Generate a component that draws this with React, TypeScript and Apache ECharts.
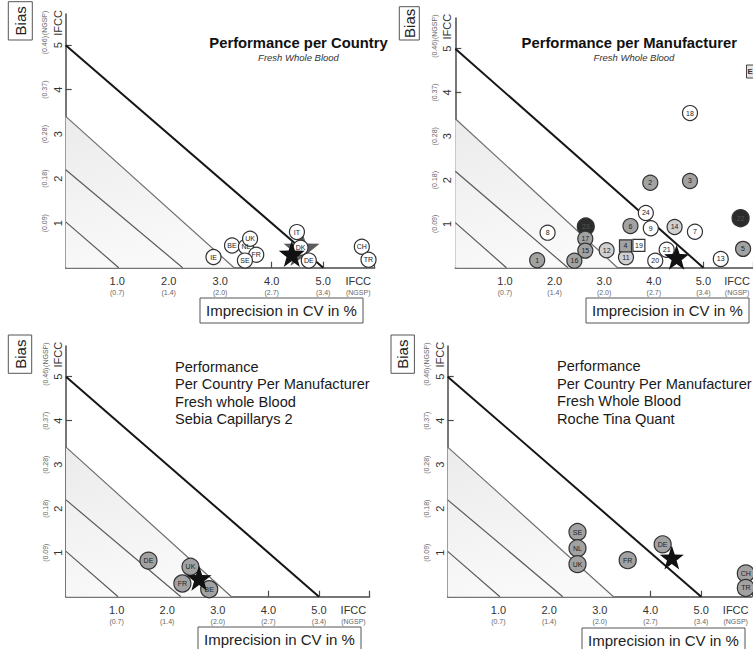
import React, { useEffect, useRef } from "react";
import * as echarts from "echarts";

const FONT = "'Liberation Sans', Arial, Helvetica, sans-serif";

// ---------- axis ticks & labels ----------
const xTickValues = [1, 2, 3, 4, 5, 6];
const xLabelValues = [1, 2, 3, 4, 5, 5.68];
const xLabelMain = ["1.0", "2.0", "3.0", "4.0", "5.0", "IFCC"];
const xLabelSub = ["(0.7)", "(1.4)", "(2.0)", "(2.7)", "(3.4)", "(NGSP)"];
const yTickValues = [1, 2, 3, 4, 5];
const yLabelValues = [1, 2, 3, 4, 5, 5.5];
const yLabelMain = ["1", "2", "3", "4", "5", "IFCC"];
const yLabelSub = ["(0.09)", "(0.18)", "(0.28)", "(0.37)", "(0.46)", "(NGSP)"];

// ---------- performance limit lines (CV, bias) ----------
const limitTotal = [[0, 5], [5, 0]];
const limitA = [[0, 3.4], [3.27, 0]];
const limitB = [[0, 2.2], [2.27, 0]];
const limitC = [[0, 1.03], [1.03, 0]];

// ---------- panel 1: per country ----------
const countryNames = ["IE", "BE", "NL", "UK", "FR", "SE", "IT", "DK", "DE", "CH", "TR"];
const countryCV = [2.87, 3.23, 3.5, 3.58, 3.7, 3.48, 4.49, 4.56, 4.72, 5.75, 5.88];
const countryBias = [0.24, 0.5, 0.47, 0.65, 0.29, 0.16, 0.8, 0.45, 0.16, 0.47, 0.18];
const countryStarGrey = [4.58, 0.44];
const countryStarBlack = [4.39, 0.31];

// ---------- panel 2: per manufacturer ----------
const manuNames = ["1", "8", "23", "17", "15", "16", "12", "11", "6", "24", "9", "14", "7", "2", "3", "18", "21", "20", "13", "22", "5"];
const manuCV = [1.65, 1.86, 2.63, 2.62, 2.62, 2.4, 3.05, 3.44, 3.53, 3.84, 3.94, 4.42, 4.83, 3.93, 4.73, 4.73, 4.26, 4.03, 5.35, 5.75, 5.8];
const manuBias = [0.17, 0.8, 0.94, 0.66, 0.39, 0.16, 0.4, 0.24, 0.95, 1.25, 0.9, 0.93, 0.82, 1.94, 1.98, 3.53, 0.41, 0.16, 0.2, 1.13, 0.43];
const manuFill = ["g", "w", "d", "g", "g", "g", "l", "l", "g", "w", "w", "l", "w", "g", "g", "w", "w", "w", "w", "d", "g"];
const manuSquareNames = ["4", "19"];
const manuSquareCV = [3.43, 3.7];
const manuSquareBias = [0.5, 0.51];
const manuSquareFill = ["g", "w"];
const manuStar = [4.46, 0.24];

// ---------- panel 3: Sebia Capillarys 2 ----------
const sebiaNames = ["DE", "UK", "FR", "BE"];
const sebiaCV = [1.63, 2.46, 2.3, 2.83];
const sebiaBias = [0.82, 0.68, 0.3, 0.17];
const sebiaStar = [2.63, 0.42];

// ---------- panel 4: Roche Tina Quant ----------
const rocheNames = ["SE", "NL", "UK", "FR", "DE", "CH", "TR"];
const rocheCV = [2.56, 2.56, 2.56, 3.55, 4.24, 5.88, 5.88];
const rocheBias = [1.47, 1.1, 0.74, 0.83, 1.19, 0.53, 0.2];
const rocheStar = [4.42, 0.89];

// ---------- texts ----------
const biasLabel = "Bias";
const xAxisTitle = "Imprecision in CV in %";
const title1 = "Performance per Country";
const title2 = "Performance per Manufacturer";
const subTitle = "Fresh Whole Blood";
const block3 = ["Performance", "Per Country Per Manufacturer", "Fresh whole Blood", "Sebia Capillarys 2"];
const block4 = ["Performance", "Per Country Per Manufacturer", "Fresh Whole Blood", "Roche Tina Quant"];

const FILLS: Record<string, string> = { w: "#ffffff", l: "#d0d0d0", g: "#a2a2a2", d: "#2c2c2c" };
const STAR =
  "path://M0,-10 L2.35,-3.24 L9.51,-3.09 L3.8,1.24 L5.88,8.09 L0,4 L-5.88,8.09 L-3.8,1.24 L-9.51,-3.09 L-2.35,-3.24 Z";

const layouts = [
  { left: 65.7, top: 14, width: 309, height: 253.7 },
  { left: 455.3, top: 18, width: 303.6, height: 249.7 },
  { left: 66, top: 345.9, width: 303.6, height: 250.8 },
  { left: 447.7, top: 345.9, width: 304.2, height: 250.8 },
];

function idx(arr: number[], v: number) {
  return arr.findIndex((a) => Math.abs(a - v) < 1e-6);
}

function buildOption() {
  const grid = layouts.map((l) => ({ ...l, containLabel: false }));
  const axisColor = "#4a4a4a";
  const xAxis = layouts.map((_, i) => ({
    gridIndex: i,
    type: "value",
    min: 0,
    max: 6,
    splitLine: { show: false },
    axisLine: { show: true, onZero: false, lineStyle: { color: axisColor, width: 1.5 } },
    axisTick: { show: true, inside: true, length: 6, customValues: xTickValues, lineStyle: { color: axisColor, width: 1.2 } },
    axisLabel: {
      show: true,
      hideOverlap: false,
      customValues: xLabelValues,
      margin: 7,
      formatter: (v: number) => {
        const k = idx(xLabelValues, v);
        return k < 0 ? "" : `{m|${xLabelMain[k]}}\n{s|${xLabelSub[k]}}`;
      },
      rich: {
        m: { fontSize: 11, lineHeight: 12, color: "#333", fontFamily: FONT },
        s: { fontSize: 7, lineHeight: 11, color: "#666", fontFamily: FONT },
      },
    },
  }));
  const yAxis = layouts.map((_, i) => ({
    gridIndex: i,
    type: "value",
    min: 0,
    max: 5.7,
    splitLine: { show: false },
    axisLine: { show: true, onZero: false, lineStyle: { color: axisColor, width: 1.5 } },
    axisTick: { show: true, inside: true, length: 6, customValues: yTickValues, lineStyle: { color: axisColor, width: 1.2 } },
    axisLabel: {
      show: true,
      hideOverlap: false,
      showMaxLabel: true,
      showMinLabel: true,
      rotate: 90,
      customValues: yLabelValues,
      margin: 2,
      formatter: (v: number) => {
        const k = idx(yLabelValues, v);
        return k < 0 ? "" : `{s|${yLabelSub[k]}}\n{m|${yLabelMain[k]}}`;
      },
      rich: {
        m: { fontSize: 11, lineHeight: 12, color: "#333", fontFamily: FONT },
        s: { fontSize: 7, lineHeight: 14, color: "#666", fontFamily: FONT },
      },
    },
  }));

  const series: any[] = [];
  layouts.forEach((_, i) => {
    series.push({
      type: "line",
      xAxisIndex: i,
      yAxisIndex: i,
      data: limitA,
      symbol: "none",
      z: 1,
      lineStyle: { color: "#6e6e6e", width: 1.2 },
      areaStyle: {
        opacity: 1,
        color: new echarts.graphic.LinearGradient(0, 0, 0.3, 1, [
          { offset: 0, color: "#ebebeb" },
          { offset: 1, color: "#f9f9f9" },
        ]),
      },
    });
    [limitB, limitC].forEach((d) =>
      series.push({
        type: "line",
        xAxisIndex: i,
        yAxisIndex: i,
        data: d,
        symbol: "none",
        z: 2,
        lineStyle: { color: "#5a5a5a", width: 1.2 },
      })
    );
    series.push({
      type: "line",
      xAxisIndex: i,
      yAxisIndex: i,
      data: limitTotal,
      symbol: "none",
      z: 2,
      lineStyle: { color: "#161616", width: 2 },
    });
  });

  const pointLabel = { show: true, position: "inside", formatter: "{b}", fontSize: 7, color: "#222", fontFamily: FONT };
  const circles = (i: number, names: string[], xs: number[], ys: number[], fills: string[], size: number, symbol = "circle") => ({
    type: "scatter",
    xAxisIndex: i,
    yAxisIndex: i,
    symbol,
    symbolSize: size,
    z: 4,
    itemStyle: { borderColor: "#333", borderWidth: 1.2, opacity: 1 },
    label: pointLabel,
    data: names.map((n, k) => ({
      name: n,
      value: [xs[k], ys[k]],
      symbolSize: fills[k] === "d" ? size + 2 : size,
      itemStyle: { color: FILLS[fills[k]] },
      label: fills[k] === "d" ? { color: "#555" } : undefined,
    })),
  });
  const star = (i: number, p: number[], size: number, color: string, z: number) => ({
    type: "scatter",
    xAxisIndex: i,
    yAxisIndex: i,
    symbol: STAR,
    symbolSize: size,
    z,
    itemStyle: { color, opacity: 1 },
    data: [p],
  });

  // panel 1
  series.push(star(0, countryStarGrey, 36, "#5c5c5c", 3));
  series.push(circles(0, countryNames, countryCV, countryBias, countryNames.map(() => "w"), 15));
  series.push(star(0, countryStarBlack, 26, "#111", 5));
  // panel 2
  series.push(circles(1, manuNames, manuCV, manuBias, manuFill, 15));
  series.push(circles(1, manuSquareNames, manuSquareCV, manuSquareBias, manuSquareFill, 12, "rect"));
  series.push(star(1, manuStar, 25, "#111", 5));
  // panel 3
  series.push(circles(2, sebiaNames, sebiaCV, sebiaBias, sebiaNames.map(() => "g"), 17));
  series.push(star(2, sebiaStar, 25, "#111", 5));
  // panel 4
  series.push(circles(3, rocheNames, rocheCV, rocheBias, rocheNames.map(() => "g"), 17));
  series.push(star(3, rocheStar, 24, "#111", 5));

  const biasBoxes = [
    { x: 8.3, y: 1.7, w: 24, h: 38.3 },
    { x: 399.3, y: 6.7, w: 20, h: 33.3 },
    { x: 8.3, y: 335, w: 23.4, h: 38.3 },
    { x: 391, y: 335, w: 23.4, h: 38.3 },
  ];
  const cvBoxes = [
    { x: 200, y: 298, w: 163, h: 25 },
    { x: 586, y: 298, w: 163, h: 25 },
    { x: 198, y: 627, w: 163, h: 25 },
    { x: 582, y: 628, w: 163, h: 25 },
  ];
  const graphic: any[] = [];
  biasBoxes.forEach((b) => {
    graphic.push({ type: "rect", shape: { x: b.x, y: b.y, width: b.w, height: b.h }, style: { fill: "#fff", stroke: "#555", lineWidth: 1 }, z: 10 });
    graphic.push({
      type: "text",
      x: b.x + b.w / 2,
      y: b.y + b.h / 2,
      rotation: Math.PI / 2,
      z: 11,
      style: { text: biasLabel, align: "center", verticalAlign: "middle", fontSize: 15, fontFamily: FONT, fill: "#222" },
    });
  });
  cvBoxes.forEach((b) => {
    graphic.push({ type: "rect", shape: { x: b.x, y: b.y, width: b.w, height: b.h }, style: { fill: "#fff", stroke: "#555", lineWidth: 1 }, z: 10 });
    graphic.push({
      type: "text",
      x: b.x + b.w / 2,
      y: b.y + 12.5,
      z: 11,
      style: { text: xAxisTitle, align: "center", verticalAlign: "middle", fontSize: 15, fontFamily: FONT, fill: "#222" },
    });
  });
  const titles = [
    { t: title1, x: 298.5, y: 43, sx: 298.5, sy: 57 },
    { t: title2, x: 629.3, y: 43.3, sx: 634, sy: 57 },
  ];
  titles.forEach((t) => {
    graphic.push({ type: "text", x: t.x, y: t.y, z: 11, style: { text: t.t, align: "center", verticalAlign: "middle", fontSize: 14.8, fontWeight: "bold", fontFamily: FONT, fill: "#111" } });
    graphic.push({ type: "text", x: t.sx, y: t.sy, z: 11, style: { text: subTitle, align: "center", verticalAlign: "middle", fontSize: 9.5, fontStyle: "italic", fontFamily: FONT, fill: "#333" } });
  });
  [
    { lines: block3, x: 175, y: 358 },
    { lines: block4, x: 557, y: 357.5 },
  ].forEach((b) =>
    graphic.push({
      type: "text",
      x: b.x,
      y: b.y,
      z: 11,
      style: { text: b.lines.join("\n"), align: "left", verticalAlign: "top", fontSize: 14.6, lineHeight: 17.5, fontFamily: FONT, fill: "#1a1a1a" },
    })
  );
  // cut-off legend box at the top right of panel 2
  graphic.push({ type: "rect", shape: { x: 746.5, y: 65, width: 14, height: 13 }, style: { fill: "#e6e6e6", stroke: "#444", lineWidth: 1 }, z: 10 });
  graphic.push({ type: "text", x: 747.5, y: 71.5, z: 11, style: { text: "E", align: "left", verticalAlign: "middle", fontSize: 8, fontWeight: "bold", fontFamily: FONT, fill: "#333" } });

  return {
    animation: false,
    backgroundColor: "#ffffff",
    textStyle: { fontFamily: FONT },
    grid,
    xAxis,
    yAxis,
    series,
    graphic,
  };
}

export default function App() {
  const ref = useRef<HTMLDivElement>(null);
  useEffect(() => {
    const chart = echarts.init(ref.current as HTMLDivElement, null, { renderer: "svg" });
    chart.setOption(buildOption() as any);
    return () => chart.dispose();
  }, []);
  return (
    <div
      ref={ref}
      style={{ position: "absolute", left: 0, top: 0, width: 753, height: 649, background: "#fff" }}
    />
  );
}
